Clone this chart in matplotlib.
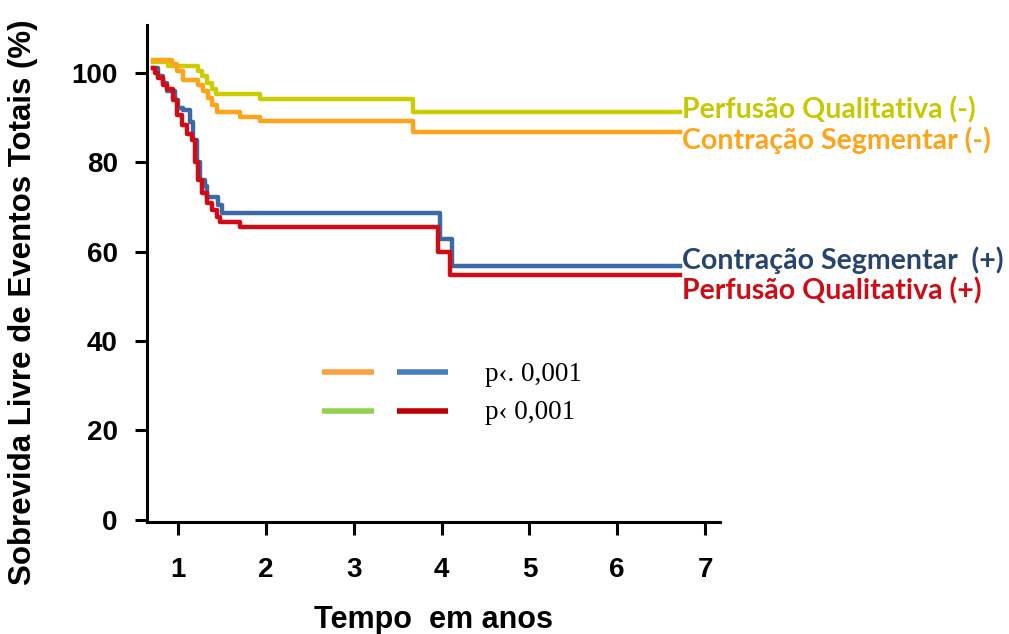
import numpy as np
import matplotlib
matplotlib.use("Agg")
import matplotlib.pyplot as plt

# Kaplan-Meier step curves (tempo em anos, sobrevida %)
t_perf_neg = [0.715, 0.886, 1.23, 1.27, 1.33, 1.39, 1.43, 1.93, 3.68, 6.72]
s_perf_neg = [102.5, 101.6, 100.3, 99.2, 97.7, 96.4, 95.3, 94.2, 91.3, 91.3]

t_contr_neg = [0.715, 0.932, 0.989, 1.057, 1.228, 1.285, 1.342, 1.387, 1.444, 1.706, 1.934, 3.677, 6.72]
s_contr_neg = [102.9, 102.0, 100.3, 98.4, 97.3, 95.9, 94.3, 92.8, 91.3, 90.2, 89.3, 86.8, 86.8]

t_contr_pos = [0.715, 0.772, 0.829, 0.875, 0.966, 1.0, 1.057, 1.137, 1.171, 1.216, 1.251,
               1.308, 1.33, 1.456, 1.50, 3.98, 4.12, 6.72]
s_contr_pos = [101.1, 99.2, 97.8, 95.9, 94.0, 92.2, 91.7, 89.0, 85.0, 80.0, 76.0,
               74.6, 72.3, 70.5, 68.7, 62.9, 56.8, 56.8]

t_perf_pos = [0.715, 0.738, 0.772, 0.829, 0.875, 0.943, 0.989, 1.046, 1.103, 1.159, 1.194,
              1.228, 1.273, 1.33, 1.387, 1.444, 1.478, 1.706, 3.96, 4.10, 6.72]
s_perf_pos = [101.1, 100.0, 98.9, 97.3, 96.4, 94.0, 90.6, 88.4, 86.4, 85.0, 80.0,
              76.0, 73.2, 70.9, 69.4, 67.8, 66.6, 65.5, 60.0, 54.8, 54.8]

labels = ["Perfusão Qualitativa (-)", "Contração Segmentar (-)",
          "Contração Segmentar  (+)", "Perfusão Qualitativa (+)"]
p_texts = ["p‹. 0,001", "p‹ 0,001"]

c_yel = "#cccc00"
c_org = "#ffa319"
c_blu = "#3c6aa6"
c_red = "#d20a14"

fig = plt.figure(figsize=(10.09, 6.34), dpi=100)
ax = fig.add_axes([147/1009, 1 - 522/634, (720-147)/1009, (522-25)/634])

lw = 3.2
ax.plot(t_perf_neg, s_perf_neg, drawstyle="steps-post", color=c_yel, lw=lw)
ax.plot(t_contr_neg, s_contr_neg, drawstyle="steps-post", color=c_org, lw=lw)
ax.plot(t_contr_pos, s_contr_pos, drawstyle="steps-post", color=c_blu, lw=lw)
ax.plot(t_perf_pos, s_perf_pos, drawstyle="steps-post", color=c_red, lw=lw)

ax.set_xlim(0.647, 7.17)
ax.set_ylim(-0.5, 110.7)

for s in ["top", "right"]:
    ax.spines[s].set_visible(False)
for s in ["left", "bottom"]:
    ax.spines[s].set_linewidth(2.2)

ax.set_xticks(range(1, 8))
ax.set_yticks(range(0, 101, 20))
tick_font = dict(family="Liberation Sans", weight="bold", size=20)
ax.set_xticklabels([str(i) for i in range(1, 8)], **tick_font)
ax.set_yticklabels([str(i) for i in range(0, 101, 20)], **tick_font)
ax.tick_params(axis="x", direction="out", length=9, width=2.2, pad=16)
ax.tick_params(axis="y", direction="out", length=9, width=2.2, pad=12)

ax.set_xlabel("Tempo  em anos", family="Liberation Sans", weight="bold", size=22, labelpad=16)
ax.set_ylabel("Sobrevida Livre de Eventos Totais (%)", family="Liberation Sans",
              weight="bold", size=22.5)
ax.yaxis.set_label_coords(-0.19, 0.443)

# curve labels
lab_font = dict(family="Lato", weight="bold", size=20.5, va="center", ha="left")
ax.text(6.74, 91.7, labels[0], color="#c8c800", **lab_font)
ax.text(6.74, 85.0, labels[1], color=c_org, **lab_font)
ax.text(6.74, 58.0, labels[2], color="#27446e", **lab_font)
ax.text(6.74, 51.3, labels[3], color=c_red, **lab_font)

# legend swatches and p values
ax.plot([2.64, 3.23], [33.1, 33.1], color="#ffa040", lw=4, solid_capstyle="butt")
ax.plot([3.49, 4.075], [33.1, 33.1], color="#4a7cc0", lw=4, solid_capstyle="butt")
ax.plot([2.64, 3.23], [24.4, 24.4], color="#92d050", lw=4, solid_capstyle="butt")
ax.plot([3.49, 4.075], [24.4, 24.4], color="#c00000", lw=4, solid_capstyle="butt")
ax.text(4.5, 32.6, p_texts[0], family="Liberation Serif", size=19.5, va="center")
ax.text(4.5, 24.0, p_texts[1], family="Liberation Serif", size=19.5, va="center")

fig.savefig("out.png", dpi=100)
